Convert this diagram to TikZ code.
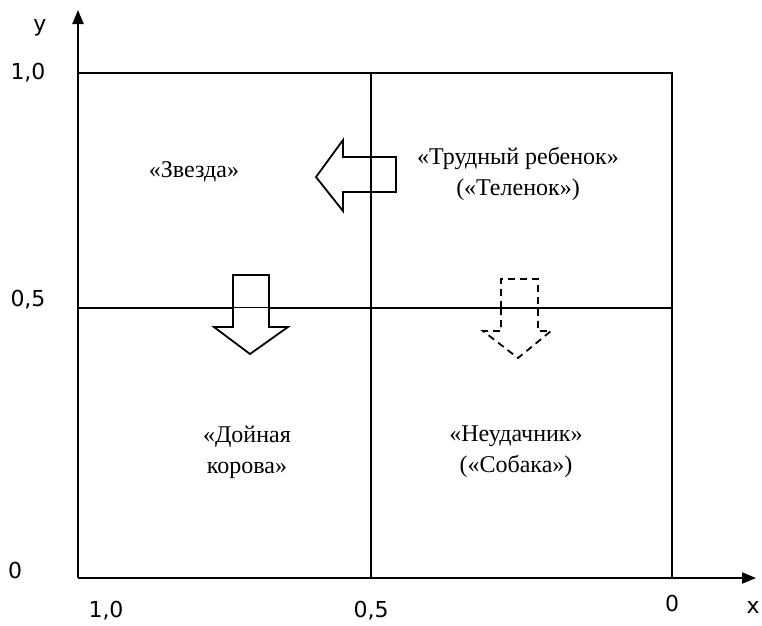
\documentclass[tikz,border=0pt]{standalone}
\usepackage{fontspec}
\setmainfont{Liberation Serif}
\newfontfamily\axisfont{DejaVu Sans}
\usetikzlibrary{arrows.meta}
\begin{document}
\begin{tikzpicture}[x=1pt,y=-1pt,
  axis/.style={line width=2.2pt,-{Triangle[length=14pt,width=11pt]}},
  gridline/.style={line width=1.3pt},
  bigarrow/.style={line width=1.8pt,line join=miter},
  dasharrow/.style={line width=1.8pt,dash pattern=on 7pt off 5pt},
  lbl/.style={font=\fontsize{24}{31}\selectfont,align=center},
  ax/.style={font=\axisfont\fontsize{22}{24}\selectfont}]
\useasboundingbox (0,0) rectangle (762,625);
% axes
\coordinate (O) at (78,578);
\coordinate (ytop) at (78,10);
\coordinate (xend) at (756,578);
\draw[axis] (O) -- (ytop);
\draw[axis] (O) -- (xend);
% grid
\coordinate (tl) at (78,73);
\coordinate (tr) at (672,73);
\coordinate (br) at (672,578);
\coordinate (mt) at (371,73);
\coordinate (mb) at (371,578);
\coordinate (ml) at (78,308);
\coordinate (mr) at (672,308);
\draw[gridline] (tl) -- (tr) -- (br);
\draw[gridline] (mt) -- (mb);
\draw[gridline] (ml) -- (mr);
% left arrow
\draw[bigarrow,fill=white] (316,177) -- (343,140) -- (343,157) -- (396,157) -- (396,192) -- (343,192) -- (343,211) -- cycle;
\draw[gridline] (371,157) -- (371,192);
% solid down arrow
\draw[bigarrow] (233,308) -- (233,275) -- (269,275) -- (269,308);
\draw[bigarrow,fill=white] (233,308) -- (233,327) -- (214,327) -- (250,354) -- (288,327) -- (269,327) -- (269,308);
% dashed down arrow
\draw[dasharrow] (501,308) -- (501,279) -- (538,279) -- (538,308);
\draw[dasharrow] (501,308) -- (501,331) -- (483,331) -- (518,358) -- (551,331) -- (538,331) -- (538,308);
% labels
\node[lbl] (star) at (194,172) {«Звезда»};
\node[lbl] (calf) at (518,174) {«Трудный ребенок»\\(«Теленок»)};
\node[lbl] (cow) at (247,452) {«Дойная\\корова»};
\node[lbl] (dog) at (516,452) {«Неудачник»\\(«Собака»)};
% axis labels
\node[ax] (ylab) at (40,28) {y};
\node[ax] (y10) at (28,73) {1,0};
\node[ax] (y05) at (28,300) {0,5};
\node[ax] (y0) at (15,570) {0};
\node[ax] (x10) at (106,611) {1,0};
\node[ax] (x05) at (371,611) {0,5};
\node[ax] (x0) at (672,603) {0};
\node[ax] (xlab) at (753,607) {x};
\end{tikzpicture}
\end{document}
